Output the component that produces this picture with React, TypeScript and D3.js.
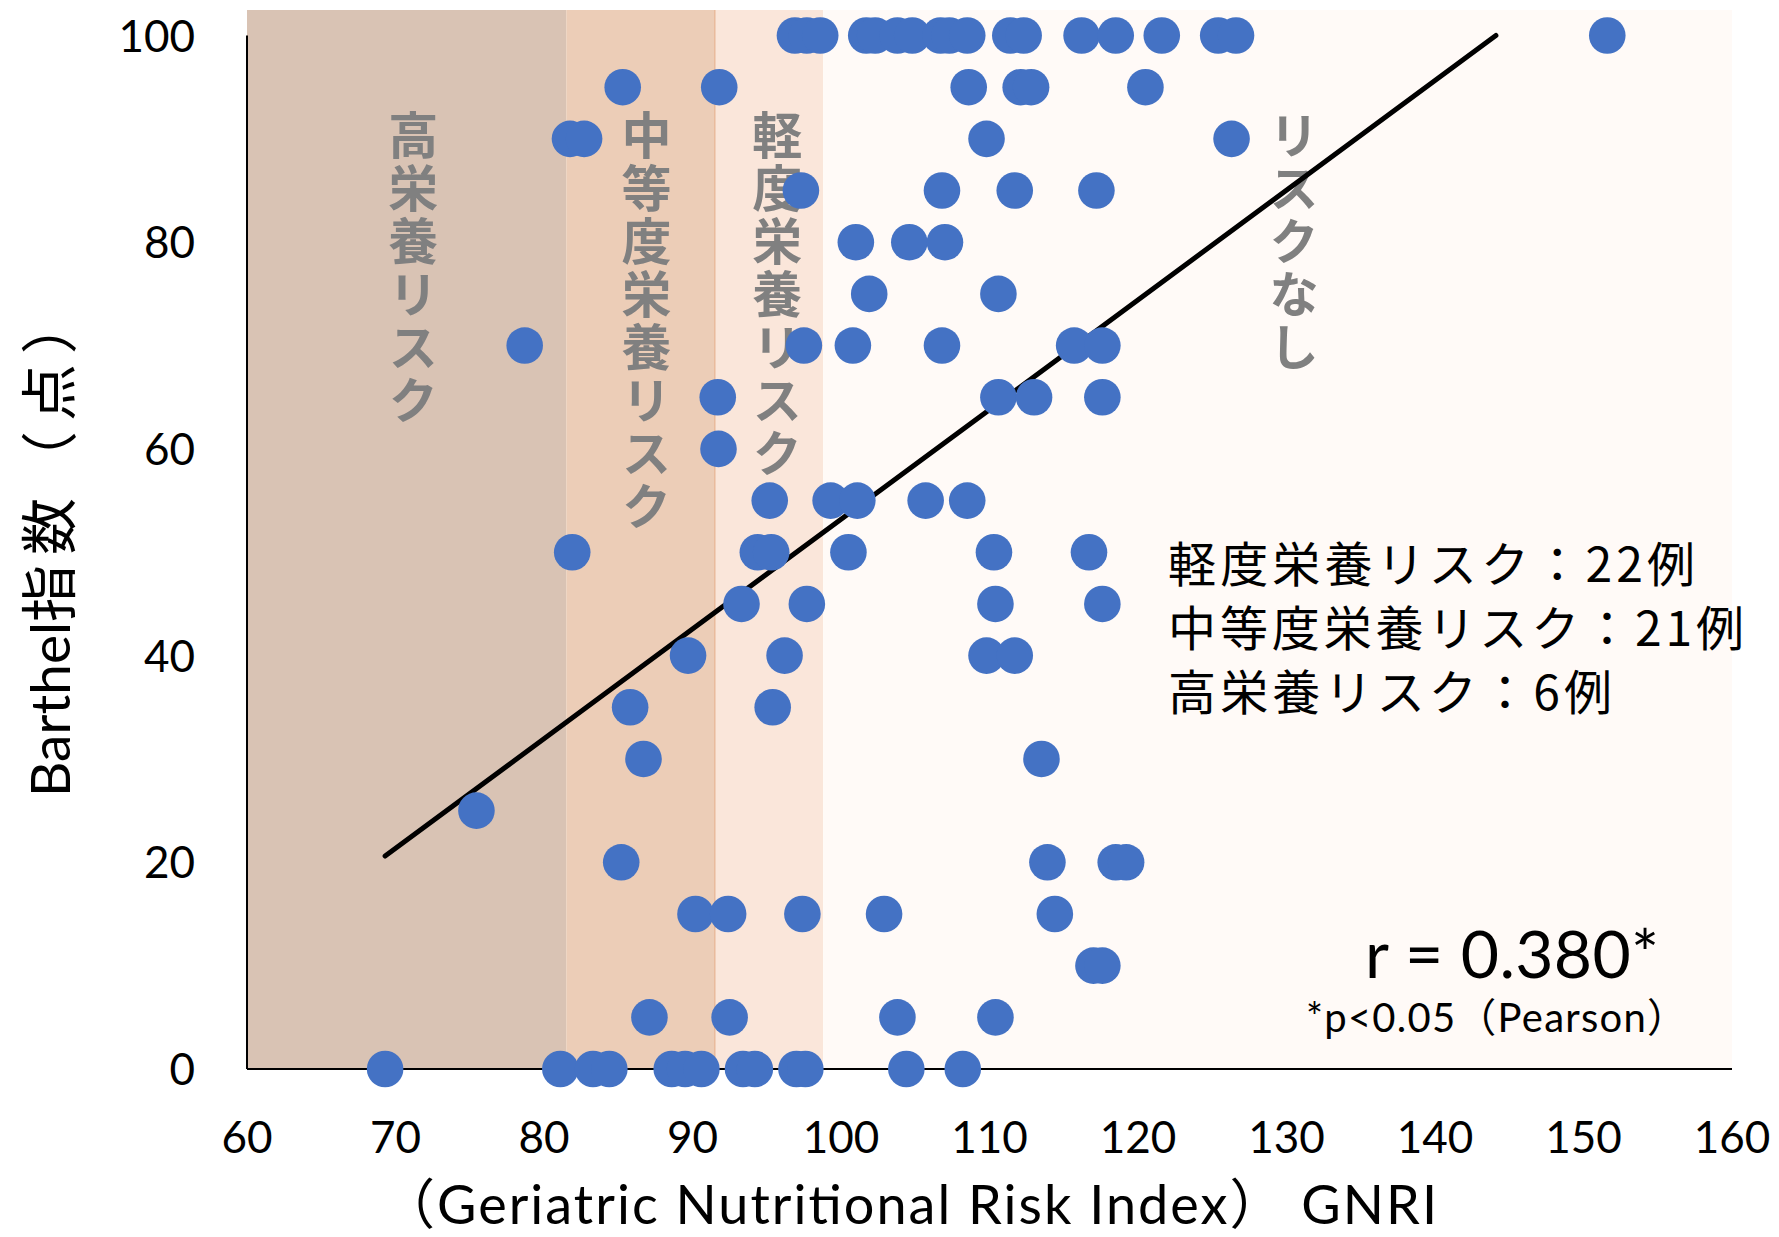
import React from 'react';
import * as d3 from 'd3';

const W = 1779;
const H = 1237;

// Data: GNRI (x) and Barthel index (y)
const gnri: number[] = [
  96.9, 97.7, 98.6, 101.7, 102.3, 103.8, 104.8, 106.7, 107.3, 108.5, 111.4, 112.3, 116.2, 118.5, 121.6, 125.4, 126.6, 151.6,
  85.3, 91.8, 108.6, 112.1, 112.8, 120.5,
  81.75, 82.7, 109.8, 126.3,
  97.3, 106.8, 111.7, 117.2,
  101.0, 104.6, 107.0,
  101.9, 110.6,
  78.7, 97.5, 100.8, 106.8, 115.7, 117.6,
  91.7, 110.6, 113.0, 117.6,
  91.75,
  95.2, 99.3, 101.1, 105.7, 108.5,
  81.9, 94.4, 95.3, 100.5, 110.3, 116.7,
  93.3, 97.7, 110.4, 117.6,
  89.7, 96.2, 109.8, 111.7,
  85.8, 95.4,
  86.7, 113.5,
  75.45,
  85.2, 113.9, 118.5, 119.2,
  90.2, 92.4, 97.4, 102.9, 114.4,
  117.0, 117.6,
  87.1, 92.5, 103.8, 110.4,
  69.3, 81.1, 83.3, 84.4, 88.6, 89.5, 90.6, 93.4, 94.2, 97.0, 97.6, 104.4, 108.2,
];
const barthel: number[] = [
  100, 100, 100, 100, 100, 100, 100, 100, 100, 100, 100, 100, 100, 100, 100, 100, 100, 100,
  95, 95, 95, 95, 95, 95,
  90, 90, 90, 90,
  85, 85, 85, 85,
  80, 80, 80,
  75, 75,
  70, 70, 70, 70, 70, 70,
  65, 65, 65, 65,
  60,
  55, 55, 55, 55, 55,
  50, 50, 50, 50, 50, 50,
  45, 45, 45, 45,
  40, 40, 40, 40,
  35, 35,
  30, 30,
  25,
  20, 20, 20, 20,
  15, 15, 15, 15, 15,
  10, 10,
  5, 5, 5, 5,
  0, 0, 0, 0, 0, 0, 0, 0, 0, 0, 0, 0, 0,
];

// Trend line endpoints
const trendX: number[] = [69.3, 144.1];
const trendY: number[] = [20.6, 100];

const xTicks: number[] = [60, 70, 80, 90, 100, 110, 120, 130, 140, 150, 160];
const yTicks: number[] = [0, 20, 40, 60, 80, 100];

// Risk bands
const bandEdges: number[] = [60, 81.5, 91.5, 98.8, 160];
const bandNames: string[] = ['高栄養リスク', '中等度栄養リスク', '軽度栄養リスク', 'リスクなし'];
const bandLabelGnri: number[] = [71.2, 86.9, 95.7, 130.5];
const bandColors: string[] = ['#D9C3B4', '#ECCDB7', '#FAE6DA', '#FFFAF7'];

const legendLines: string[] = ['軽度栄養リスク：22例', '中等度栄養リスク：21例', '高栄養リスク：6例'];
const legendWidths: number[] = [527, 576, 444];

const JP = "'Noto Sans CJK JP', 'Noto Sans', sans-serif";
const LAT = "Lato, 'Noto Sans CJK JP', sans-serif";

export default function App() {
  const x = d3.scaleLinear().domain([60, 160]).range([247, 1732]);
  const y = d3.scaleLinear().domain([0, 100]).range([1069, 35.5]);
  const bandTop = 10;

  const trend = d3
    .line<number>()
    .x((d) => x(trendX[d]))
    .y((d) => y(trendY[d]))([0, 1]);

  return (
    <svg
      width={W}
      height={H}
      viewBox={`0 0 ${W} ${H}`}
      style={{ position: 'absolute', left: 0, top: 0, background: '#fff' }}
    >
      {/* bands */}
      {bandColors.map((c, i) => (
        <rect
          key={'b' + i}
          x={x(bandEdges[i])}
          y={bandTop}
          width={x(bandEdges[i + 1]) - x(bandEdges[i])}
          height={y(0) - bandTop}
          fill={c}
        />
      ))}
      <line x1={x(bandEdges[2])} x2={x(bandEdges[2])} y1={bandTop} y2={y(0)} stroke="#E9BA9C" strokeWidth={1.5} />

      {/* band labels (vertical) */}
      {bandNames.map((name, i) => (
        <text
          key={'l' + i}
          x={x(bandLabelGnri[i])}
          y={110}
          style={{ writingMode: 'vertical-rl', letterSpacing: '3px' } as React.CSSProperties}
          fontFamily={JP}
          fontWeight={700}
          fontSize={50}
          fill="#808080"
        >
          {name}
        </text>
      ))}

      {/* axes */}
      <line x1={x(60)} x2={x(60)} y1={y(100)} y2={y(0)} stroke="#000" strokeWidth={2} />
      <line x1={x(60)} x2={x(160)} y1={y(0)} y2={y(0)} stroke="#000" strokeWidth={2} />

      {/* trend line */}
      <path d={trend || ''} stroke="#000" strokeWidth={5} fill="none" strokeLinecap="round" />

      {/* points */}
      {gnri.map((g, i) => (
        <circle key={'p' + i} cx={x(g)} cy={y(barthel[i])} r={18.3} fill="#4472C4" />
      ))}

      {/* tick labels */}
      {yTicks.map((t) => (
        <text key={'yt' + t} x={195} y={y(t) + 16} textAnchor="end" fontFamily={LAT} fontSize={44} fill="#000">
          {t}
        </text>
      ))}
      {xTicks.map((t) => (
        <text key={'xt' + t} x={x(t)} y={1153} textAnchor="middle" fontFamily={LAT} fontSize={44} fill="#000">
          {t}
        </text>
      ))}

      {/* axis titles */}
      <text x={381} y={1224} fontFamily={LAT} fontSize={54} fill="#000" textLength={1056} lengthAdjust="spacing">
        （Geriatric Nutritional Risk Index） GNRI
      </text>
      <text transform={`translate(70, 797) rotate(-90)`} textAnchor="start" fontFamily={LAT} fill="#000">
        <tspan fontSize={55}>Barthel</tspan>
        <tspan fontSize={57} fontFamily={JP} style={{ letterSpacing: '10px' }}>
          指数（点）
        </tspan>
      </text>

      {/* legend counts */}
      {legendLines.map((s, i) => (
        <text
          key={'lg' + i}
          x={1168}
          y={582 + i * 64}
          fontFamily={JP}
          fontSize={48}
          fill="#000"
          textLength={legendWidths[i]}
          lengthAdjust="spacing"
        >
          {s}
        </text>
      ))}

      {/* stats */}
      <text x={1365} y={978} fontFamily={LAT} fontSize={66} fill="#000" textLength={294} lengthAdjust="spacing">
        r = 0.380*
      </text>
      <text x={1306} y={1032} fontFamily={LAT} fontSize={40} fill="#000" textLength={381} lengthAdjust="spacing">
        *p&lt;0.05（Pearson）
      </text>
    </svg>
  );
}
